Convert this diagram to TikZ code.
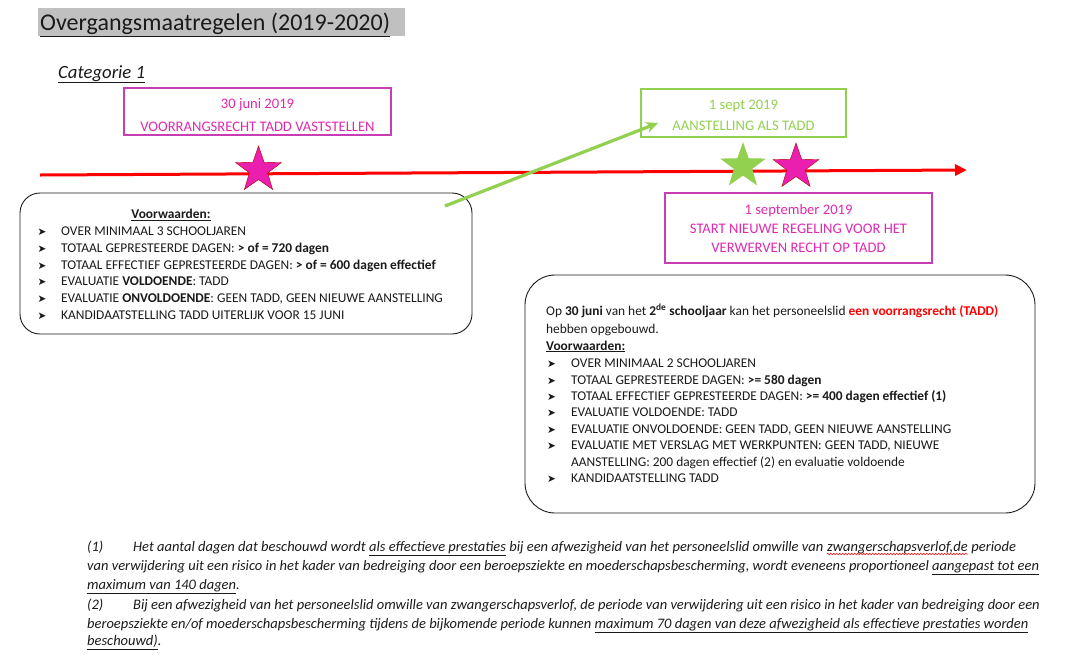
\documentclass[tikz,border=0pt]{standalone}
\usepackage{fontspec}
\setmainfont{Carlito}
\newfontfamily\dingfont{DejaVu Sans}
\usetikzlibrary{arrows.meta,positioning,shapes.geometric,calc,decorations.pathmorphing}
\definecolor{ovgInk}{HTML}{1A1A1A}
\definecolor{ovgPink}{HTML}{E02AAE}
\definecolor{ovgPinkLine}{HTML}{C83CB4}
\definecolor{ovgStarPink}{HTML}{EA1FB0}
\definecolor{ovgGreen}{HTML}{92D050}
\definecolor{ovgRed}{HTML}{FF0000}
\definecolor{ovgGrey}{HTML}{C0C0C0}
\newcommand{\ovgbullet}{{\dingfont\fontsize{10.5}{11}\selectfont ➤}}
\tikzset{
  ovg/event/.style={line width=1.4pt, inner sep=0pt},
  ovg/pinkbox/.style={ovg/event, draw=ovgPinkLine},
  ovg/greenbox/.style={ovg/event, draw=ovgGreen},
  ovg/eventtext/.style={align=center, inner sep=0pt,
    font=\fontsize{14.6}{23}\selectfont},
  ovg/cond/.style={draw=ovgInk, line width=0.9pt},
  ovg/item/.style={anchor=base west, inner sep=0pt, text=ovgInk,
    font=\fontsize{13.4}{15}\selectfont},
  ovg/foot/.style={anchor=base west, inner sep=0pt, text=ovgInk,
    font=\fontsize{14.5}{17}\selectfont\itshape},
  ovg/titlebg/.style={fill=ovgGrey, anchor=north west, inner sep=0pt,
    minimum width=367pt, minimum height=28pt},
  ovg/starmark/.style={star, star points=5, star point ratio=2.5,
    minimum size=48pt, inner sep=0pt},
  ovg/timeline/.style={-{Triangle[length=12pt,width=11pt]}, draw=ovgRed,
    line width=3pt},
  ovg/jump/.style={-{Stealth[length=12pt,width=11pt]}, draw=ovgGreen,
    line width=3.2pt},
  ovg/spell/.style={draw=ovgRed, line width=0.5pt, decorate,
    decoration={snake, amplitude=0.8pt, segment length=3pt}},
}

\begin{document}
\begin{tikzpicture}[x=1pt, y=-1pt]
\useasboundingbox (0,0) rectangle (1066,654);

\node[ovg/titlebg] (titleBg) at (38,8) {};
\node[ovg/item, font=\fontsize{24}{26}\selectfont] (title) at (40,30.5) {\underline{Overgangsmaatregelen (2019-2020)}};
\node[ovg/item, font=\fontsize{18.7}{20}\selectfont\itshape] (cat) at (58,78) {\underline{Categorie 1}};

% timeline with the three moments
\coordinate (tlStart) at (40,175);
\coordinate (tlEnd) at (967,170);
\draw[ovg/timeline] (tlStart) -- (tlEnd);

\node[ovg/pinkbox, minimum width=267pt, minimum height=47pt] (juni) at (257.5,111.5) {};
\node[ovg/eventtext, text=ovgPink] (juniText) at ([yshift=-3.5pt]juni.center)
  {30 juni 2019\\VOORRANGSRECHT TADD VASTSTELLEN};
\node[ovg/greenbox, minimum width=205pt, minimum height=48pt] (sept) at (743.5,113) {};
\node[ovg/eventtext, text=ovgGreen, font=\fontsize{14.6}{21}\selectfont] (septText)
  at ([yshift=-2pt]sept.center) {1 sept 2019\\AANSTELLING ALS TADD};
\node[ovg/pinkbox, minimum width=267pt, minimum height=70pt] (regeling) at (798.5,228) {};
\node[ovg/eventtext, text=ovgPink, font=\fontsize{14.6}{19}\selectfont] (regelingText)
  at (regeling.center) {1 september 2019\\START NIEUWE REGELING VOOR HET\\VERWERVEN RECHT OP TADD};

\node[ovg/starmark, fill=ovgStarPink, draw=ovgRed!70!black, line width=0.4pt] (starJuni) at (258.5,170) {};
\node[ovg/starmark, fill=ovgGreen] (starSept) at (743,166) {};
\node[ovg/starmark, fill=ovgStarPink, draw=ovgRed!70!black, line width=0.4pt] (starRegeling) at (796,167) {};

% conditions, old rule
\node[ovg/cond, rounded corners=20pt, minimum width=452pt, minimum height=141pt] (condOld) at (246,263.5) {};
\node[ovg/item, anchor=base] (oldHead) at (171,218.5) {\underline{\textbf{Voorwaarden:}}};
\foreach \t [count=\i] in {
    {OVER MINIMAAL 3 SCHOOLJAREN},
    {TOTAAL GEPRESTEERDE DAGEN: \textbf{> of = 720 dagen}},
    {TOTAAL EFFECTIEF GEPRESTEERDE DAGEN: \textbf{> of = 600 dagen effectief}},
    {EVALUATIE \textbf{VOLDOENDE}: TADD},
    {EVALUATIE \textbf{ONVOLDOENDE}: GEEN TADD, GEEN NIEUWE AANSTELLING},
    {KANDIDAATSTELLING TADD UITERLIJK VOOR 15 JUNI}} {
  \pgfmathsetmacro{\y}{235.5+16.8*(\i-1)}
  \node[ovg/item] (oldB\i) at (37.5,\y) {\ovgbullet};
  \node[ovg/item] (oldT\i) at (61,\y) {\t};
}

\coordinate (jumpFrom) at (445,206);
\coordinate (jumpTo) at (658,123);
\draw[ovg/jump] (jumpFrom) -- (jumpTo);

% conditions, new rule
\node[ovg/cond, rounded corners=30pt, minimum width=510pt, minimum height=238pt] (condNew) at (780,394) {};
\node[ovg/item] (newIntro) at (546,315.5) {Op \textbf{30 juni} van het \textbf{2\textsuperscript{de} schooljaar} kan het personeelslid \textcolor{ovgRed}{\textbf{een voorrangsrecht (TADD)}}};
\node[ovg/item] (newIntro2) at (546,333) {hebben opgebouwd.};
\node[ovg/item] (newHead) at (546,350) {\underline{\textbf{Voorwaarden:}}};
\foreach \y/\t [count=\i] in {
    367/{OVER MINIMAAL 2 SCHOOLJAREN},
    384/{TOTAAL GEPRESTEERDE DAGEN: \textbf{>= 580 dagen}},
    400.5/{TOTAAL EFFECTIEF GEPRESTEERDE DAGEN: \textbf{>= 400 dagen effectief (1)}},
    416.5/{EVALUATIE VOLDOENDE: TADD},
    433/{EVALUATIE ONVOLDOENDE: GEEN TADD, GEEN NIEUWE AANSTELLING},
    449.5/{EVALUATIE MET VERSLAG MET WERKPUNTEN: GEEN TADD, NIEUWE},
    482.5/{KANDIDAATSTELLING TADD}} {
  \node[ovg/item] (newB\i) at (547,\y) {\ovgbullet};
  \node[ovg/item] (newT\i) at (571,\y) {\t};
}
\node[ovg/item] (newT6b) at (571,466) {AANSTELLING: 200 dagen effectief (2) en evaluatie voldoende};

% footnotes
\node[ovg/foot] (fnOne) at (87,551) {(1)};
\node[ovg/foot] (fnOneA) at (133,551) {Het aantal dagen dat beschouwd wordt \underline{als effectieve prestaties} bij een afwezigheid van het personeelslid omwille van};
\node[ovg/foot] (fnOneW) at ($(fnOneA.base east)+(3.3,0)$) {zwangerschapsverlof,de};
\node[ovg/foot] (fnOneB) at ($(fnOneW.base east)+(3.3,0)$) {periode};
\draw[ovg/spell] ($(fnOneW.base west)+(0,3)$) -- ($(fnOneW.base east)+(0,3)$);
\node[ovg/foot] (fnOneC) at (87,570.5) {van verwijdering uit een risico in het kader van bedreiging door een beroepsziekte en moederschapsbescherming, wordt eveneens proportioneel \underline{aangepast tot een}};
\node[ovg/foot] (fnOneD) at (87,589.5) {\underline{maximum van 140 dagen}.};
\node[ovg/foot] (fnTwo) at (87,609) {(2)};
\node[ovg/foot] (fnTwoA) at (133,609) {Bij een afwezigheid van het personeelslid omwille van zwangerschapsverlof, de periode van verwijdering uit een risico in het kader van bedreiging door een};
\node[ovg/foot] (fnTwoB) at (87,628) {beroepsziekte en/of moederschapsbescherming tijdens de bijkomende periode kunnen \underline{maximum 70 dagen van deze afwezigheid als effectieve prestaties worden}};
\node[ovg/foot] (fnTwoC) at (87,645.5) {\underline{beschouwd)}.};
\end{tikzpicture}
\end{document}
